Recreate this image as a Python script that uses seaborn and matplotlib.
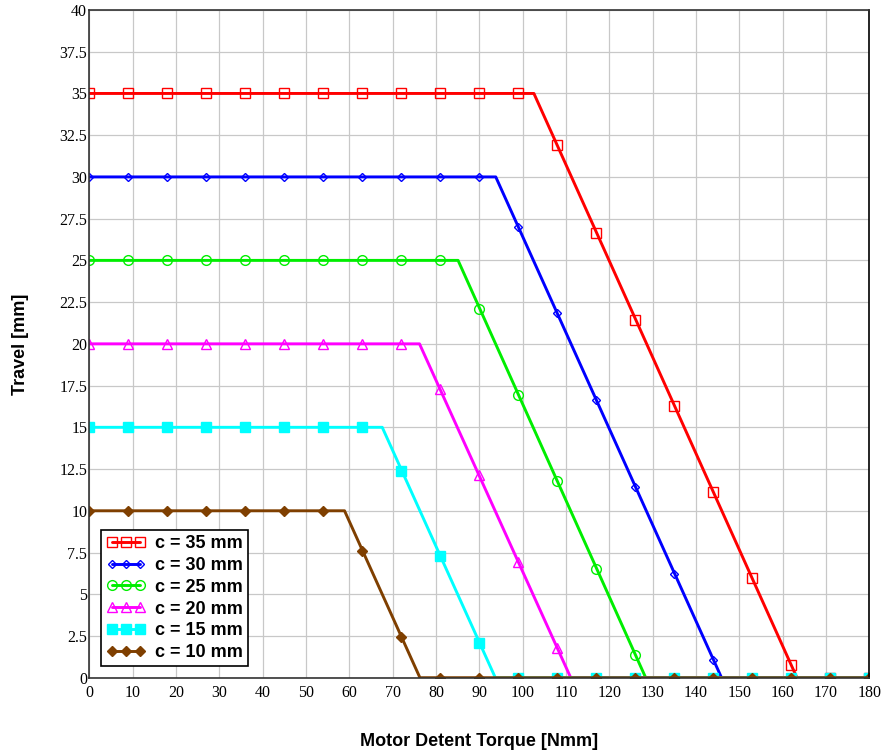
import numpy as np
import pandas as pd
import matplotlib
matplotlib.use('Agg')
import matplotlib.pyplot as plt
from matplotlib.lines import Line2D
import seaborn as sns

# marker positions along the torque axis [Nmm]
marker_x = [0, 9, 18, 27, 36, 45, 54, 63, 72, 81, 90, 99, 108, 117, 126, 135, 144, 153, 162, 171, 180]

series = ['c = 35 mm', 'c = 30 mm', 'c = 25 mm', 'c = 20 mm', 'c = 15 mm', 'c = 10 mm']
travel_max = [35, 30, 25, 20, 15, 10]
knee_x = [102.6, 93.8, 85.1, 76.2, 67.6, 58.9]   # where travel starts dropping
zero_x = [163.3, 145.9, 128.4, 111.1, 93.7, 76.3]   # where travel reaches 0

# travel at the marker positions [mm]
y_35 = [35, 35, 35, 35, 35, 35, 35, 35, 35, 35, 35, 35, 31.9, 26.65, 21.43, 16.3, 11.12, 5.95, 0.75, 0, 0]
y_30 = [30, 30, 30, 30, 30, 30, 30, 30, 30, 30, 30, 27.0, 21.85, 16.64, 11.42, 6.24, 1.07, 0, 0, 0, 0]
y_25 = [25, 25, 25, 25, 25, 25, 25, 25, 25, 25, 22.1, 16.94, 11.76, 6.54, 1.37, 0, 0, 0, 0, 0, 0]
y_20 = [20, 20, 20, 20, 20, 20, 20, 20, 20, 17.29, 12.12, 6.94, 1.76, 0, 0, 0, 0, 0, 0, 0, 0]
y_15 = [15, 15, 15, 15, 15, 15, 15, 15, 12.41, 7.28, 2.09, 0, 0, 0, 0, 0, 0, 0, 0, 0, 0]
y_10 = [10, 10, 10, 10, 10, 10, 10, 7.62, 2.45, 0, 0, 0, 0, 0, 0, 0, 0, 0, 0, 0, 0]
marker_y = [y_35, y_30, y_25, y_20, y_15, y_10]

x_ticks = [0, 10, 20, 30, 40, 50, 60, 70, 80, 90, 100, 110, 120, 130, 140, 150, 160, 170, 180]
y_ticks = [0, 2.5, 5, 7.5, 10, 12.5, 15, 17.5, 20, 22.5, 25, 27.5, 30, 32.5, 35, 37.5, 40]
y_labels = ['0', '2.5', '5', '7.5', '10', '12.5', '15', '17.5', '20', '22.5', '25', '27.5', '30',
            '32.5', '35', '37.5', '40']

colors = ['#ff0000', '#0000ff', '#00ee00', '#ff00ff', '#00ffff', '#7f3f00']
markers = ['s', 'D', 'o', '^', 's', 'D']
filled = [False, False, False, False, True, True]
msizes = [6.5, 4.5, 7, 6.5, 6.5, 5.5]

sns.set_style('whitegrid')
plt.rcParams['text.color'] = 'black'
plt.rcParams['axes.labelcolor'] = 'black'

fig = plt.figure(figsize=(8.87, 7.56), dpi=100)
ax = fig.add_axes([89.3 / 887, 1 - 677.7 / 756, 780 / 887, 667.7 / 756])

handles = []
for i, name in enumerate(series):
    c = travel_max[i]
    line_df = pd.DataFrame({'torque': [0, knee_x[i], zero_x[i], 180], 'travel': [c, c, 0, 0]})
    sns.lineplot(data=line_df, x='torque', y='travel', color=colors[i], lw=2.1,
                 estimator=None, sort=False, ax=ax, legend=False)
    mfc = colors[i] if filled[i] else 'none'
    mk_df = pd.DataFrame({'torque': marker_x, 'travel': marker_y[i]})
    sns.lineplot(data=mk_df, x='torque', y='travel', linestyle='none', marker=markers[i],
                 ms=msizes[i], mfc=mfc, mec=colors[i], mew=1.0, color=colors[i],
                 estimator=None, sort=False, ax=ax, legend=False)
    handles.append(Line2D([], [], color=colors[i], lw=2.1, marker=markers[i], ms=msizes[i],
                          mfc=mfc, mec=colors[i], mew=1.0))

ax.set_xlim(0, 180)
ax.set_ylim(0, 40)
ax.set_xticks(x_ticks)
ax.set_xticklabels([str(t) for t in x_ticks])
ax.set_yticks(y_ticks)
ax.set_yticklabels(y_labels)
ax.tick_params(axis='both', length=0, labelsize=11.5, labelcolor='black')
ax.tick_params(axis='y', pad=1.5)
ax.tick_params(axis='x', pad=5)
for lab in ax.get_xticklabels() + ax.get_yticklabels():
    lab.set_family('Liberation Serif')

ax.grid(True, color='#c8c8c8', lw=0.9)
for side in ['left', 'bottom', 'top']:
    ax.spines[side].set_color('#333333')
    ax.spines[side].set_linewidth(1.2)
ax.spines['right'].set_color('black')
ax.spines['right'].set_linewidth(1.2)

ax.set_xlabel('Motor Detent Torque [Nmm]', fontsize=13, fontweight='bold',
              family='Liberation Sans', color='black')
ax.set_ylabel('Travel [mm]', fontsize=13, fontweight='bold', family='Liberation Sans', color='black')
ax.xaxis.set_label_coords(0.5, -0.083)
ax.yaxis.set_label_coords(-0.077, 0.5)

leg = ax.legend(handles, series, loc='upper left', bbox_to_anchor=(0.0146, 0.2212),
                borderaxespad=0, numpoints=3, handlelength=2.2, handletextpad=0.5,
                labelspacing=0.26, borderpad=0.3, fancybox=False, framealpha=1,
                prop={'family': 'Liberation Sans', 'weight': 'bold', 'size': 13})
leg.get_frame().set_edgecolor('black')
leg.get_frame().set_linewidth(1.2)
for t in leg.get_texts():
    t.set_color('black')

plt.savefig('out.png', dpi=100)
